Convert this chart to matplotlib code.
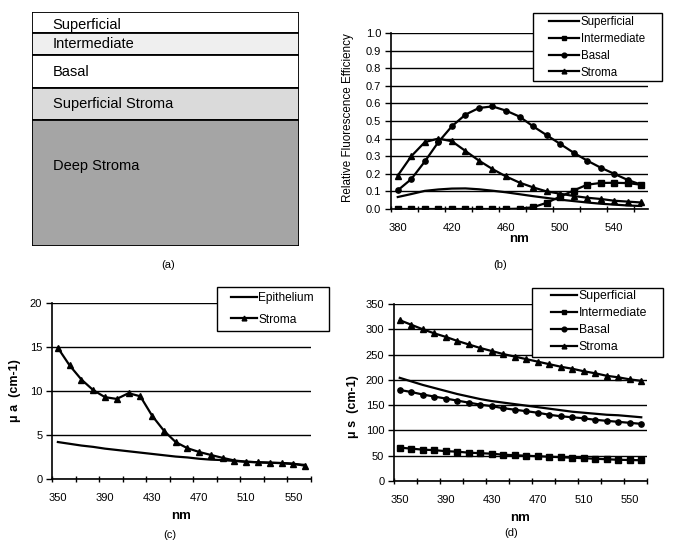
import numpy as np
import matplotlib
matplotlib.use("Agg")
import matplotlib.pyplot as plt
from matplotlib.patches import Rectangle

plt.rcParams['font.family'] = ['Liberation Sans', 'DejaVu Sans']

# (a) tissue layers: names, top/bottom in panel units (0 = top)
layer_names = ["Superficial", "Intermediate", "Basal", "Superficial Stroma", "Deep Stroma"]
layer_edges = [0, 21, 42.5, 75.5, 108, 234]
layer_colors = ["white", "#efefef", "white", "#dadada", "#a5a5a5"]
layer_text_y = [13.5, 32, 60, 92, 154]

# (b) relative fluorescence efficiency
nm_b = list(range(380, 561, 10))
fl_superficial = [0.068, 0.085, 0.103, 0.111, 0.116, 0.117, 0.112, 0.104, 0.095, 0.084,
                  0.073, 0.063, 0.053, 0.045, 0.037, 0.030, 0.025, 0.020, 0.017]
fl_intermediate = [0.0, 0.0, 0.0, 0.0, 0.0, 0.0, 0.0, 0.0, 0.0, 0.002,
                   0.01, 0.035, 0.07, 0.105, 0.138, 0.148, 0.149, 0.147, 0.138]
fl_basal = [0.106, 0.17, 0.27, 0.38, 0.47, 0.536, 0.574, 0.583, 0.559, 0.525,
            0.47, 0.42, 0.37, 0.32, 0.275, 0.235, 0.2, 0.165, 0.138]
fl_stroma = [0.19, 0.30, 0.38, 0.40, 0.385, 0.33, 0.275, 0.227, 0.185, 0.15,
             0.123, 0.10, 0.087, 0.074, 0.064, 0.057, 0.047, 0.042, 0.037]

# (c) absorption coefficient
nm_cd = list(range(350, 561, 10))
mua_epithelium = [4.2, 4.0, 3.8, 3.65, 3.45, 3.3, 3.15, 3.0, 2.85, 2.7, 2.55,
                  2.45, 2.3, 2.2, 2.15, 2.05, 1.95, 1.9, 1.85, 1.8, 1.7, 1.6]
mua_stroma = [14.9, 12.9, 11.3, 10.1, 9.3, 9.1, 9.75, 9.4, 7.2, 5.5, 4.2,
              3.5, 3.07, 2.73, 2.4, 2.1, 1.97, 1.9, 1.85, 1.82, 1.75, 1.5]

# (d) scattering coefficient
mus_superficial = [204, 197, 190, 184, 178, 172, 167, 162, 158, 155, 152,
                   149, 146, 143, 140, 137, 135, 133, 131, 130, 128, 126]
mus_intermediate = [66, 64, 62, 61, 59, 58, 56, 55, 54, 52, 51,
                    50, 49, 48, 47, 46, 45, 44, 43, 42, 41.5, 41]
mus_basal = [180, 176, 171, 167, 163, 159, 155, 151, 148, 144, 141,
             138, 135, 131, 128, 126, 124, 121, 119, 117, 115, 113]
mus_stroma = [318, 309, 300, 292, 285, 277, 270, 263, 257, 251, 246,
              241, 236, 231, 226, 222, 217, 213, 208, 205, 201, 198]

W, H = 674, 548
fig = plt.figure(figsize=(W / 100, H / 100), dpi=100)


def add_ax(x0, y0, x1, y1):
    return fig.add_axes([x0 / W, 1 - y1 / H, (x1 - x0) / W, (y1 - y0) / H])


def excel_style(ax, xmin, xmax, labels, ymax, ystep, fs, nm_pad):
    ax.set_xlim(xmin - 5, xmax + 5)
    ax.set_ylim(0, ymax)
    ax.set_yticks(np.arange(0, ymax + ystep / 2, ystep))
    ax.set_xticks(labels)
    ax.set_xticks(np.arange(xmin - 5, xmax + 6, 20), minor=True)
    ax.tick_params(axis='x', which='major', length=0, labelsize=fs, pad=10)
    ax.tick_params(axis='x', which='minor', length=4, width=1, direction='inout')
    ax.tick_params(axis='y', length=4, width=1, direction='out', labelsize=fs, pad=3)
    ax.grid(axis='y', color='black', lw=1)
    ax.set_axisbelow(True)
    for s in ['top', 'right']:
        ax.spines[s].set_visible(False)
    for s in ['left', 'bottom']:
        ax.spines[s].set_linewidth(1.2)
    ax.set_xlabel("nm", fontweight='bold', fontsize=9.5, labelpad=nm_pad)


def add_legend(ax, box, line_x, row_y, fs, hlen, lspace):
    # box = (x0, y0, x1, y1) in pixels from the top-left corner
    x0, y0, x1, y1 = box
    ax.add_patch(Rectangle((x0 / W, 1 - y1 / H), (x1 - x0) / W, (y1 - y0) / H,
                           transform=fig.transFigure, facecolor='white',
                           edgecolor='black', lw=1, clip_on=False, zorder=9))
    leg = ax.legend(loc='upper left', bbox_to_anchor=(line_x / W, 1 - row_y / H),
                    bbox_transform=fig.transFigure, fontsize=fs, frameon=False,
                    handlelength=hlen, borderpad=0, labelspacing=lspace,
                    handletextpad=0.15, borderaxespad=0, markerscale=0.9)
    leg.set_zorder(10)


mk = dict(color='black', lw=1.6, markersize=3.8)

# (a)
axa = add_ax(32, 12, 299, 246)
for name, top, bot, col, ty in zip(layer_names, layer_edges[:-1], layer_edges[1:],
                                   layer_colors, layer_text_y):
    axa.add_patch(Rectangle((0, top), 1, bot - top, facecolor=col,
                            edgecolor='black', lw=1.3))
    axa.text(0.078, ty, name, fontsize=10.5, va='center', ha='left')
axa.set_xlim(0, 1)
axa.set_ylim(layer_edges[-1], 0)
axa.axis('off')

# (b)
axb = add_ax(391, 33, 648, 209)
axb.plot(nm_b, fl_superficial, label="Superficial", **mk)
axb.plot(nm_b, fl_intermediate, marker='s', label="Intermediate", **mk)
axb.plot(nm_b, fl_basal, marker='o', label="Basal", **mk)
axb.plot(nm_b, fl_stroma, marker='^', label="Stroma", **mk)
excel_style(axb, 380, 560, [380, 420, 460, 500, 540], 1.0, 0.1, 8, 0)
axb.set_yticklabels(["%.1f" % v for v in np.arange(0, 1.05, 0.1)])
axb.set_ylabel("Relative Fluorescence Efficiency", fontsize=8.4)
axb.yaxis.set_label_coords(-(391 - 354) / 257, 0.52)
add_legend(axb, (533, 13, 662, 81), 549, 16, 8.3, 2.6, 0.42)

# (c)
axc = add_ax(52, 303, 311, 479)
axc.plot(nm_cd, mua_epithelium, label="Epithelium", **mk)
axc.plot(nm_cd, mua_stroma, marker='^', label="Stroma", **mk)
excel_style(axc, 350, 560, [350, 390, 430, 470, 510, 550], 20, 5, 8, 5)
axc.set_ylabel("\u03bc a  (cm-1)", fontsize=9, fontweight='bold')
axc.yaxis.set_label_coords(-(52 - 21) / 259, 0.5)
add_legend(axc, (217, 287, 329, 331), 231, 292, 8.6, 2.15, 0.8)

# (d)
axd = add_ax(394, 304, 647, 481)
axd.plot(nm_cd, mus_superficial, label="Superficial", **mk)
axd.plot(nm_cd, mus_intermediate, marker='s', label="Intermediate", **mk)
axd.plot(nm_cd, mus_basal, marker='o', label="Basal", **mk)
axd.plot(nm_cd, mus_stroma, marker='^', label="Stroma", **mk)
excel_style(axd, 350, 560, [350, 390, 430, 470, 510, 550], 350, 50, 8, 5)
axd.set_ylabel("\u03bc s  (cm-1)", fontsize=9, fontweight='bold')
axd.yaxis.set_label_coords(-(394 - 359) / 253, 0.42)
add_legend(axd, (532, 288, 663, 357), 551, 290, 8.8, 2.1, 0.42)

for lab, x, y in [("(a)", 168, 265), ("(b)", 500, 265), ("(c)", 170, 535), ("(d)", 511, 533)]:
    fig.text(x / W, 1 - y / H, lab, fontsize=8, ha='center', va='center')

fig.savefig("out.png", dpi=100)
